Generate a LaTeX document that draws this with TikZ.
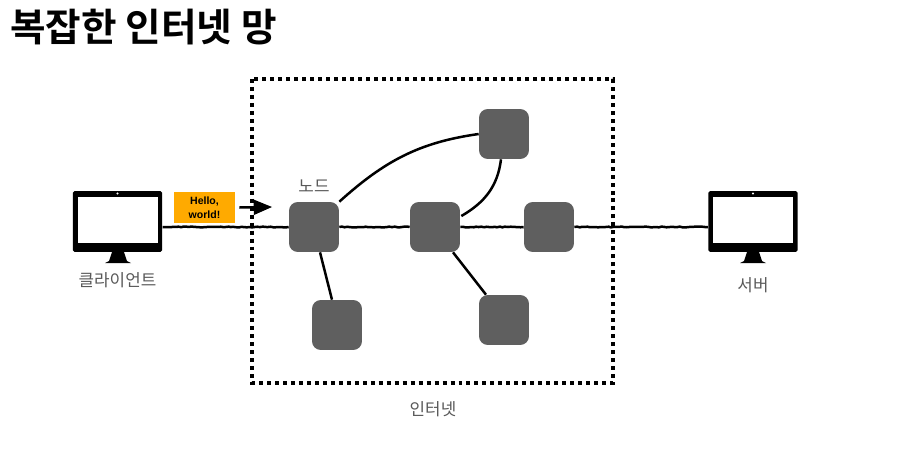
\documentclass[tikz,border=0pt]{standalone}
\usepackage{fontspec}
\setmainfont{Noto Sans CJK KR}[BoldFont={* Bold}]
\newfontfamily\latinfont{Liberation Sans}
\usepackage{xcolor}
\definecolor{nodegray}{HTML}{5F5F5F}
\definecolor{labelgray}{HTML}{595959}
\definecolor{msgorange}{HTML}{FFAA00}
\usetikzlibrary{arrows,calc,decorations.pathmorphing}

\begin{document}
\begin{tikzpicture}[x=0.02cm,y=-0.02cm,
  router/.style={fill=nodegray,rounded corners=5pt,minimum size=1cm,inner sep=0pt},
  monitor/.style={fill=black,rounded corners=1pt,minimum width=1.79cm,minimum height=1.22cm,inner sep=0pt},
  screen/.style={fill=white,minimum width=1.6cm,minimum height=0.91cm,inner sep=0pt},
  wire/.style={line width=0.05cm},
  roughwire/.style={line width=0.05cm,decorate,decoration={random steps,segment length=1.5pt,amplitude=0.25pt}},
  caption/.style={text=labelgray,font=\fontsize{9.6}{12}\selectfont,inner sep=0pt}]
  \useasboundingbox (0,0) rectangle (900,450);
  % title
  \node [anchor=west,inner sep=0pt,font=\fontsize{22}{26}\selectfont\bfseries] (title) at (10,27) {복잡한 인터넷 망};
  % internet box
  \draw [line width=0.08cm,dash pattern=on 2.27pt off 2.27pt] (252,79) rectangle (613,383);
  \node [caption] (internetlabel) at (433,409) {인터넷};
  % client
  \fill (105,263) -- (109,261) -- (112,252) -- (124,252) -- (127,261) -- (131,263) -- cycle;
  \node [monitor] (client) at (117.5,221.5) {};
  \node [screen] (clientscreen) at (118,220) {};
  \node [caption] (clientlabel) at (117.5,280) {클라이언트};
  \fill [white] (117.5,193.5) circle (0.6pt);
  % server
  \fill (740,263) -- (744,261) -- (747,252) -- (759,252) -- (762,261) -- (766,263) -- cycle;
  \node [monitor] (server) at (753,221.5) {};
  \node [screen] (serverscreen) at (753,220) {};
  \node [caption] (serverlabel) at (753,285) {서버};
  \fill [white] (753,193.5) circle (0.6pt);
  % nodes
  \node [router] (N1) at (314,227) {};
  \node [router] (N2) at (435,227) {};
  \node [router] (N3) at (549,227) {};
  \node [router] (NT) at (504,134) {};
  \node [router] (NL) at (337,325) {};
  \node [router] (NR) at (504,320) {};
  \node [caption] (nodelabel) at (314,186) {노드};
  % straight links
  \draw [roughwire] (client.east |- N1) -- (N1.west);
  \draw [roughwire] (N1.east) -- (N2.west);
  \draw [roughwire] (N2.east) -- (N3.west);
  \draw [roughwire] (N3.east) -- (server.west |- N3);
  \draw [wire] ($(N1.south)+(6,0)$) -- ($(NL.north)+(-5,0)$);
  \draw [wire] ($(N2.south)+(18,0)$) -- ($(NR.north)+(-18,0)$);
  % curved links
  \draw [wire] (N1.north east) to [out=42,in=188] (NT.west);
  \draw [wire] ($(N2.east)+(1,-11)$) to [out=30,in=-97] ($(NT.south)+(-3,0)$);
  % message
  \node [fill=msgorange,minimum width=1.22cm,minimum height=0.62cm,inner sep=0pt,align=center,
    font=\latinfont\fontsize{6}{8}\selectfont\bfseries] (hello) at (204.5,207.5) {Hello,\\world!};
  \coordinate (arrowend) at (272,207);
  \draw [wire,->,>=triangle 45] ($(hello.east)+(4,0)$) -- (arrowend);
\end{tikzpicture}
\end{document}
